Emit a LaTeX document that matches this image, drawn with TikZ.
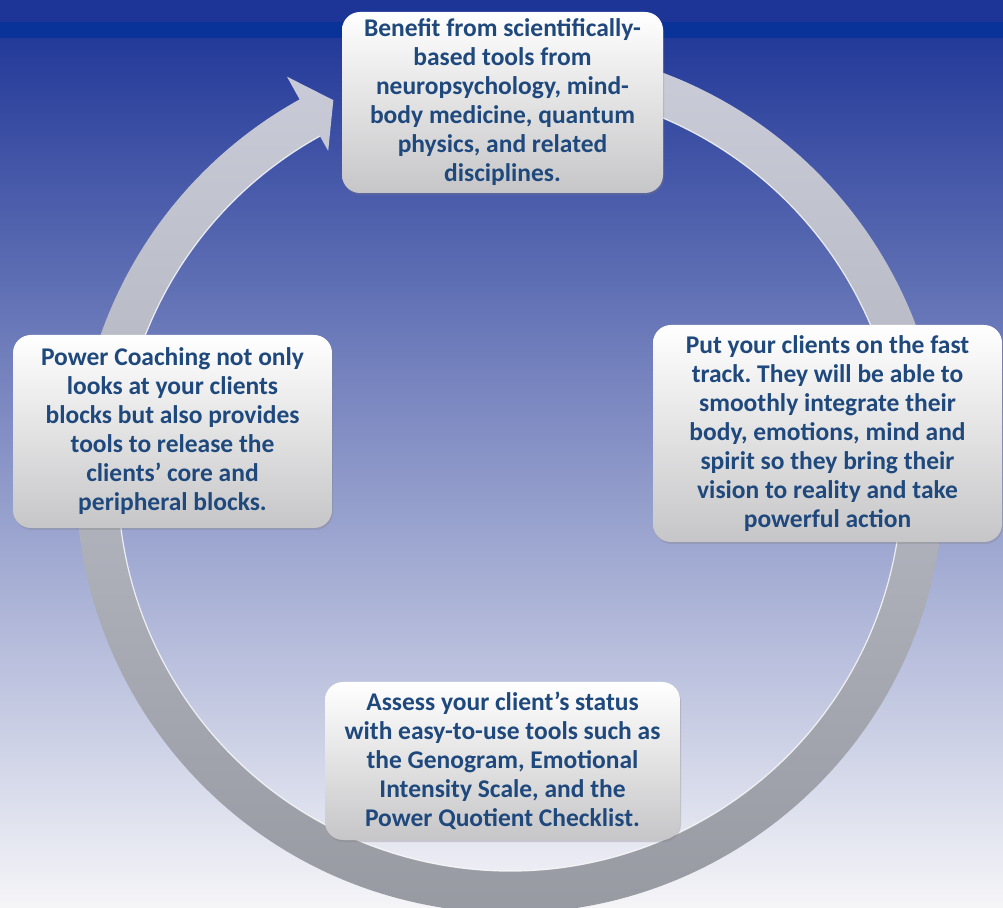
\documentclass[tikz,border=0pt]{standalone}
\usepackage{fontspec}
\setmainfont{Carlito}
\usepackage{tikz}
\usetikzlibrary{shadows}
\frenchspacing

\definecolor{txtblue}{RGB}{31,73,125}
\definecolor{boxgray}{RGB}{198,198,200}
\definecolor{bgtop}{RGB}{36,58,153}
\definecolor{bgbot}{RGB}{245,245,248}
\definecolor{bandblue}{RGB}{10,51,153}
\definecolor{bgdark}{RGB}{28,53,151}
\definecolor{ringtop}{RGB}{202,205,217}
\definecolor{ringbot}{RGB}{150,152,160}

\begin{document}
\begin{tikzpicture}[x=1pt,y=1pt,
  main node/.style={rectangle,rounded corners=18pt,top color=white,bottom color=boxgray,
    drop shadow={shadow xshift=1pt,shadow yshift=-2pt,opacity=0.3},
    align=center,text=txtblue,inner sep=0pt,
    font=\fontsize{25.5}{29}\selectfont\bfseries}]

  \useasboundingbox (0,0) rectangle (1003,907);

  % background
  \shade[top color=bgtop,bottom color=bgbot] (0,0) rectangle (1003,869);
  \fill[bandblue] (0,869) rectangle (1003,885);
  \fill[bgdark] (0,885) rectangle (1003,907);

  % circular arrow
  \begin{scope}[shift={(510,428)}]
    \shade[top color=ringtop,bottom color=ringbot]
      (80:434pt) arc[start angle=80,end angle=-241,radius=434pt]
      -- (-241:460pt) -- (-245:418pt) -- (-241:375pt) -- (-241:392pt)
      arc[start angle=-241,end angle=80,radius=392pt] -- cycle;
    \draw[white,opacity=0.8,line width=1.2pt]
      (-241:392pt) arc[start angle=-241,end angle=80,radius=392pt];
  \end{scope}

  \node[main node,minimum width=321pt,minimum height=181pt] (1) at (502.5,804.5)
    {Benefit from scientifically-\\based tools from\\neuropsychology, mind-\\body medicine, quantum\\physics, and related\\disciplines.};
  \node[main node,minimum width=349pt,minimum height=217pt] (2) at (827.5,473.5)
    {Put your clients on the fast\\track. They will be able to\\smoothly integrate their\\body, emotions, mind and\\spirit so they bring their\\vision to reality and take\\powerful action};
  \node[main node,minimum width=355pt,minimum height=158pt] (3) at (502.5,146)
    {Assess your client’s status\\with easy-to-use tools such as\\the Genogram, Emotional\\Intensity Scale, and the\\Power Quotient Checklist.};
  \node[main node,minimum width=319pt,minimum height=193pt] (4) at (172.5,475.5)
    {Power Coaching not only\\looks at your clients\\blocks but also provides\\tools to release the\\clients’ core and\\peripheral blocks.};
\end{tikzpicture}
\end{document}
